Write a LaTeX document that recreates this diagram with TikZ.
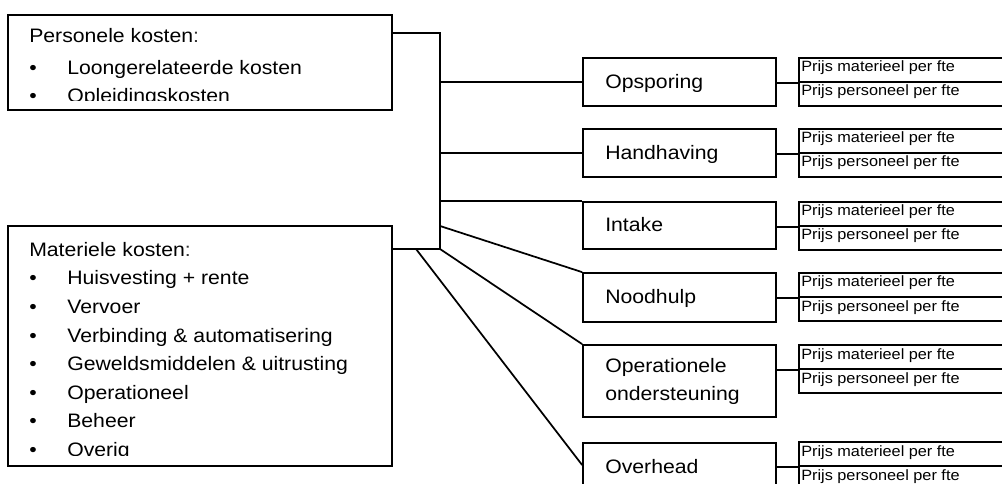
\documentclass[tikz,border=0pt]{standalone}
\usepackage{fontspec}
\setmainfont{Liberation Sans}[FakeStretch=1.09]
\usetikzlibrary{fit}
\newcommand\bigtxt{\fontsize{14.6pt}{17pt}\selectfont}
\newcommand\smtxt{\fontsize{11.2pt}{13pt}\selectfont}
\tikzset{
  box/.style={draw, line width=1.3pt, inner sep=0pt},
  lbl/.style={anchor=base west, inner sep=0pt, font=\bigtxt},
  plbl/.style={anchor=base west, inner sep=0pt, font=\smtxt},
  conn/.style={line width=1.3pt},
}
\begin{document}
\begin{tikzpicture}[x=0.75pt,y=-0.75pt]
\useasboundingbox (0,0) rectangle (1002,484);
\clip (0,0) rectangle (1002,484);
\fill[white] (0,0) rectangle (1002,484);

% left boxes
\node[box, fit={(8,15) (392,110)}] (pers) {};
\node[box, fit={(8,226) (392,466)}] (mat) {};
\begin{scope}
\clip (8,15) rectangle (392,101);
\node[lbl] (persh) at (29,43) {Personele kosten\textcolor{black!80}{:}};
\node[lbl] (pb1) at (29,75) {\textbullet};
\node[lbl] (pi1) at (67,75) {Loongerelateerde kosten};
\node[lbl] (pb2) at (29,103) {\textbullet};
\node[lbl] (pi2) at (67,103) {Opleidingskosten};
\end{scope}
\begin{scope}
\clip (8,226) rectangle (392,455);
\node[lbl] (math) at (29,257) {Materiele kosten\textcolor{black!80}{:}};
\foreach \t [count=\i from 0] in {Huisvesting + rente, Vervoer, Verbinding \& automatisering, Geweldsmiddelen \& uitrusting, Operationeel, Beheer, Overig}{
  \node[lbl] (mb\i) at (29,285+28.5*\i) {\textbullet};
  \node[lbl] (mi\i) at (67,285+28.5*\i) {\t};
}
\end{scope}

% category boxes
\node[box, fit={(583,58) (776,106)}] (ops) {};
\node[box, fit={(583,129) (776,177)}] (hand) {};
\node[box, fit={(583,202) (776,249)}] (int) {};
\node[box, fit={(583,273) (776,322)}] (nood) {};
\node[box, fit={(583,345) (776,417)}] (oper) {};
\node[box, fit={(583,443) (776,487)}] (over) {};
\node[lbl] (opst) at (605,89) {Opsporing};
\node[lbl] (handt) at (605,160) {Handhaving};
\node[lbl] (intt) at (605,232) {Intake};
\node[lbl] (noodt) at (605,304) {Noodhulp};
\node[lbl] (opert) at (605,372) {Operationele};
\node[lbl] (opert2) at (605,400) {ondersteuning};
\node[lbl] (overt) at (605,473) {Overhead};

% price boxes
\foreach \n/\T in {ops/58, hand/129, int/202, nood/273, oper/345, over/442}{
  \node[box, fit={(799,\T) (1010,\T+24)}] (\n pa) {};
  \node[box, fit={(799,\T+24) (1010,\T+48)}] (\n pb) {};
  \node[plbl] (\n ta) at (801,\T+14) {Prijs materieel per fte};
  \node[plbl] (\n tb) at (801,\T+38) {Prijs personeel per fte};
  \draw[conn] (\n.east |- \n pa.south west) -- (\n pa.south west);
}

% bracket and branches
\coordinate (b1) at (440,33);
\coordinate (b2) at (440,249);
\coordinate (b3) at (440,226);
\coordinate (b4) at (416,249);
\draw[conn] (b1 -| pers.east) -- (b1) -- (b2) -- (b2 -| mat.east);
\draw[conn] (b1 |- ops.west) -- (ops.west);
\draw[conn] (b1 |- hand.west) -- (hand.west);
\draw[conn] (b1 |- int.north west) -- (int.north west);
\draw[conn] (b3) -- (nood.north west);
\draw[conn] (b2) -- (oper.north west);
\draw[conn] (b4) -- (over.west);
\end{tikzpicture}
\end{document}
